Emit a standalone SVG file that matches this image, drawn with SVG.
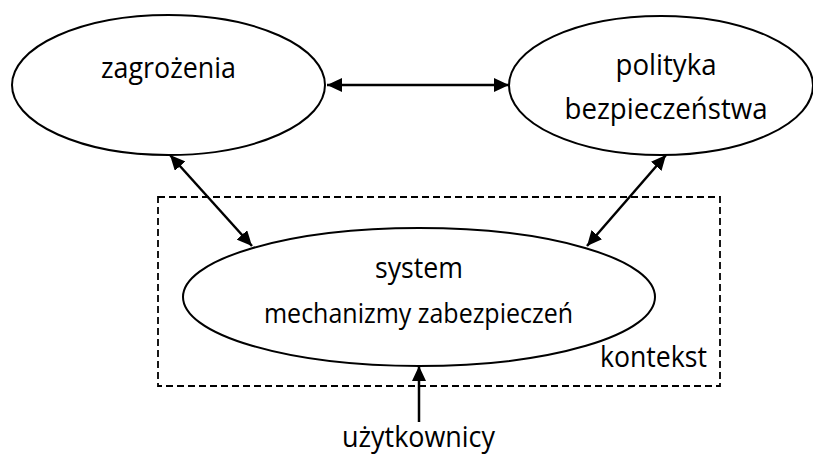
<svg xmlns="http://www.w3.org/2000/svg" width="813" height="457" viewBox="0 0 813 457">
<defs>
<marker id="ah" viewBox="0 0 15 14" refX="15" refY="7" markerWidth="15" markerHeight="14" markerUnits="userSpaceOnUse" orient="auto-start-reverse">
<path d="M0,0 L15,7 L0,14 Z" fill="#000"/>
</marker>
</defs>
<style>
.node{fill:#fff;stroke:#000;stroke-width:2}
.t{font-family:"Open Sans","Liberation Sans",sans-serif;font-size:28.5px;fill:#000;text-anchor:middle}
.c{stroke:#000;stroke-width:2.5;fill:none}
.ctx{fill:none;stroke:#000;stroke-width:1.8;stroke-dasharray:7 4}
</style>
<rect width="813" height="457" fill="#fff"/>
<g id="kontekst">
<rect class="ctx" x="158" y="197" width="562" height="189"/>
<text class="t" x="707" y="367" style="text-anchor:end" textLength="107" lengthAdjust="spacingAndGlyphs">kontekst</text>
</g>
<g id="zagrozenia">
<ellipse class="node" cx="168.5" cy="85" rx="156.5" ry="70"/>
<text class="t" x="168.5" y="78" textLength="135" lengthAdjust="spacingAndGlyphs">zagrożenia</text>
</g>
<g id="polityka">
<ellipse class="node" cx="661" cy="85.5" rx="152" ry="69.5"/>
<text class="t" x="666" y="75" textLength="101" lengthAdjust="spacingAndGlyphs">polityka</text>
<text class="t" x="666" y="119" textLength="203" lengthAdjust="spacingAndGlyphs">bezpieczeństwa</text>
</g>
<g id="system">
<ellipse class="node" cx="419" cy="297" rx="236" ry="69"/>
<text class="t" x="419" y="278" textLength="88" lengthAdjust="spacingAndGlyphs">system</text>
<text class="t" x="418.5" y="323" style="font-size:27px" textLength="309" lengthAdjust="spacingAndGlyphs">mechanizmy zabezpieczeń</text>
</g>
<g id="uzytkownicy">
<text class="t" x="418.5" y="447" textLength="153" lengthAdjust="spacingAndGlyphs">użytkownicy</text>
</g>
<g id="connectors">
<line class="c" x1="327" y1="85" x2="509" y2="85" marker-start="url(#ah)" marker-end="url(#ah)"/>
<line class="c" x1="170" y1="155" x2="252" y2="246" marker-start="url(#ah)" marker-end="url(#ah)"/>
<line class="c" x1="666" y1="155" x2="587" y2="246" marker-start="url(#ah)" marker-end="url(#ah)"/>
<line class="c" x1="419" y1="422" x2="419" y2="366" marker-end="url(#ah)"/>
</g>
</svg>
